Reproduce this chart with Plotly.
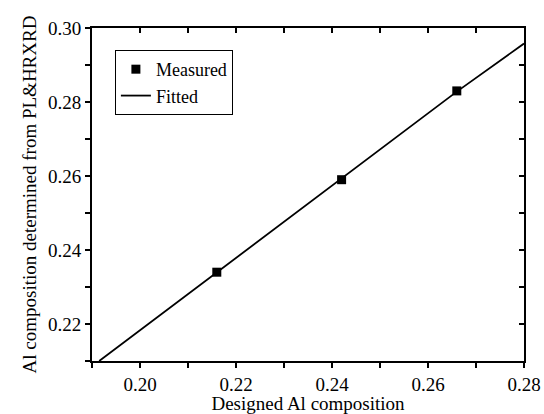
import plotly.graph_objects as go

meas_x = [0.216, 0.242, 0.266]
meas_y = [0.234, 0.259, 0.283]
fit_x = [0.1915, 0.216, 0.242, 0.266, 0.28]
fit_y = [0.2100, 0.2340, 0.2593, 0.2828, 0.2958]

x_range = [0.19, 0.28]
y_range = [0.21, 0.30]
font = "Liberation Serif, Times New Roman, serif"

fig = go.Figure()
fig.add_trace(go.Scatter(x=meas_x, y=meas_y, mode="markers", name="Measured",
                         marker=dict(symbol="square", size=9, color="black")))
fig.add_trace(go.Scatter(x=fit_x, y=fit_y, mode="lines", name="Fitted",
                         line=dict(color="black", width=1.8)))
fig.add_trace(go.Scatter(x=[None], y=[None], xaxis="x2", yaxis="y2", showlegend=False))

axis_common = dict(showgrid=False, zeroline=False, showline=True, linecolor="black",
                   linewidth=2, ticklen=5, tickwidth=1.5, tickcolor="black", automargin=False)
fig.update_layout(
    width=544, height=414,
    margin=dict(l=92, r=20, t=28, b=53),
    paper_bgcolor="white", plot_bgcolor="white",
    font=dict(family=font, size=19, color="black"),
    xaxis=dict(range=x_range, tickvals=[0.20, 0.22, 0.24, 0.26, 0.28],
               ticktext=["0.20", "0.22", "0.24", "0.26", "0.28"], ticks="outside",
               minor=dict(dtick=0.01, tick0=0.19, ticks="outside", ticklen=5, tickcolor="black"),
               title=dict(text="Designed Al composition", font=dict(size=19), standoff=4),
               **axis_common),
    yaxis=dict(range=y_range, tickvals=[0.22, 0.24, 0.26, 0.28, 0.30],
               ticktext=["0.22", "0.24", "0.26", "0.28", "0.30"], ticks="outside",
               minor=dict(dtick=0.01, tick0=0.21, ticks="outside", ticklen=5, tickcolor="black"),
               title=dict(text="Al composition determined from PL&HRXRD", font=dict(size=19), standoff=6),
               **axis_common),
    xaxis2=dict(range=x_range, overlaying="x", side="top", showticklabels=False,
                tickvals=[0.19, 0.20, 0.21, 0.22, 0.23, 0.24, 0.25, 0.26, 0.27, 0.28], ticks="inside",
                **axis_common),
    yaxis2=dict(range=y_range, overlaying="y", side="right", showticklabels=False,
                tickvals=[0.21, 0.22, 0.23, 0.24, 0.25, 0.26, 0.27, 0.28, 0.29, 0.30], ticks="inside",
                **axis_common),
    legend=dict(x=0.053, y=0.934, xanchor="left", yanchor="top",
                bordercolor="black", borderwidth=1, bgcolor="white",
                font=dict(size=18), tracegroupgap=0, itemwidth=30),
    showlegend=True,
)
fig.write_html("out.html")
